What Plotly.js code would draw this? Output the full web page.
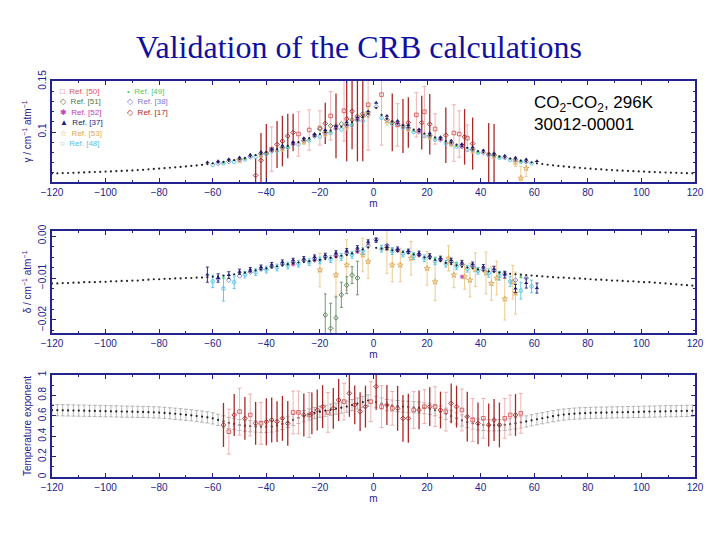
<!DOCTYPE html>
<html>
<head>
<meta charset="utf-8">
<script src="https://cdn.plot.ly/plotly-3.0.1.min.js"></script>
<style>
  html, body { margin: 0; padding: 0; background: #fff; }
  #chart { width: 720px; height: 540px; }
</style>
</head>
<body>
<div id="chart"></div>
<script>
// ---- CRB calculation: m = -120..-2 (P branch) and 1..119 (R branch)
const mCalc = [
    -120, -118, -116, -114, -112, -110, -108, -106, -104, -102,
    -100, -98, -96, -94, -92, -90, -88, -86, -84, -82,
    -80, -78, -76, -74, -72, -70, -68, -66, -64, -62,
    -60, -58, -56, -54, -52, -50, -48, -46, -44, -42,
    -40, -38, -36, -34, -32, -30, -28, -26, -24, -22,
    -20, -18, -16, -14, -12, -10, -8, -6, -4, -2,
    1, 3, 5, 7, 9, 11, 13, 15, 17, 19,
    21, 23, 25, 27, 29, 31, 33, 35, 37, 39,
    41, 43, 45, 47, 49, 51, 53, 55, 57, 59,
    61, 63, 65, 67, 69, 71, 73, 75, 77, 79,
    81, 83, 85, 87, 89, 91, 93, 95, 97, 99,
    101, 103, 105, 107, 109, 111, 113, 115, 117, 119,
];
const calcGamma = [
    .0590, .0591, .0593, .0594, .0596, .0598, .0600, .0602, .0604, .0606,
    .0608, .0610, .0612, .0615, .0617, .0620, .0623, .0626, .0630, .0634,
    .0638, .0642, .0646, .0650, .0654, .0659, .0664, .0669, .0675, .0682,
    .0690, .0697, .0705, .0713, .0721, .0730, .0743, .0757, .0771, .0785,
    .0800, .0815, .0831, .0847, .0863, .0880, .0899, .0919, .0939, .0959,
    .0980, .0998, .1016, .1034, .1052, .1070, .1095, .1120, .1148, .1180,
    .1240, .1170, .1130, .1105, .1085, .1065, .1045, .1025, .1005, .0985,
    .0966, .0947, .0929, .0911, .0893, .0876, .0859, .0843, .0827, .0812,
    .0798, .0784, .0771, .0759, .0747, .0736, .0726, .0716, .0707, .0698,
    .0690, .0683, .0676, .0670, .0664, .0659, .0654, .0649, .0645, .0641,
    .0637, .0633, .0630, .0626, .0623, .0620, .0617, .0615, .0612, .0610,
    .0608, .0605, .0603, .0601, .0599, .0597, .0596, .0594, .0592, .0591,
];
const calcDelta = [
    -.0113, -.0113, -.0112, -.0112, -.0111, -.0111, -.0110, -.0110, -.0110, -.0109,
    -.0109, -.0108, -.0108, -.0107, -.0107, -.0106, -.0106, -.0105, -.0104, -.0103,
    -.0103, -.0102, -.0102, -.0101, -.0101, -.0100, -.0100, -.0099, -.0099, -.0098,
    -.0097, -.0096, -.0094, -.0093, -.0091, -.0089, -.0087, -.0085, -.0082, -.0080,
    -.0077, -.0075, -.0072, -.0070, -.0067, -.0065, -.0063, -.0062, -.0060, -.0058,
    -.0057, -.0055, -.0052, -.0050, -.0047, -.0045, -.0041, -.0037, -.0032, -.0027,
    -.0028, -.0030, -.0032, -.0034, -.0036, -.0038, -.0041, -.0044, -.0047, -.0051,
    -.0054, -.0057, -.0060, -.0064, -.0067, -.0070, -.0073, -.0075, -.0077, -.0080,
    -.0082, -.0084, -.0085, -.0087, -.0088, -.0090, -.0091, -.0092, -.0093, -.0094,
    -.0095, -.0096, -.0097, -.0098, -.0099, -.0099, -.0100, -.0101, -.0101, -.0102,
    -.0103, -.0104, -.0104, -.0105, -.0106, -.0106, -.0107, -.0108, -.0108, -.0109,
    -.0110, -.0110, -.0111, -.0112, -.0113, -.0114, -.0115, -.0116, -.0117, -.0118,
];
const calcN = [
    .655, .655, .654, .653, .652, .651, .650, .649, .648, .647,
    .645, .644, .643, .642, .641, .640, .639, .638, .636, .634,
    .632, .628, .624, .620, .615, .610, .605, .598, .592, .585,
    .575, .560, .545, .530, .520, .510, .503, .498, .495, .492,
    .492, .495, .505, .520, .540, .560, .580, .597, .613, .627,
    .640, .650, .660, .670, .680, .690, .705, .720, .735, .750,
    .735, .720, .705, .700, .695, .690, .687, .684, .680, .675,
    .668, .655, .640, .620, .598, .575, .555, .538, .525, .515,
    .510, .507, .507, .508, .512, .518, .526, .535, .545, .556,
    .566, .576, .586, .596, .605, .612, .617, .621, .624, .626,
    .628, .630, .631, .632, .633, .634, .635, .636, .637, .638,
    .640, .641, .642, .643, .644, .645, .646, .647, .648, .649,
];
const calcNErr = 0.055;

// ---- Measurements (Refs.)
const m37 = [-62, -58, -54, -50, -46, -42, -38, -34, -30, -26, -22, -18, -14, -10, -6, -2,
    1, 5, 9, 13, 17, 21, 25, 29, 33, 37, 41, 45, 49, 53, 57, 61];
const gamma37 = [.0700, .0712, .0730, .0748, .0775, .0803, .0833, .0866, .0900, .0940, .0980, .1020, .1058, .1095, .1145, .1205,
    .1290, .1160, .1110, .1068, .1027, .0988, .0950, .0915, .0880, .0848, .0818, .0790, .0765, .0745, .0728, .0712];
const delta37 = [-.0092, -.0100, -.0093, -.0085, -.0080, -.0074, -.0068, -.0062, -.0058, -.0054, -.0050, -.0046, -.0040, -.0035, -.0028, -.0014,
    -.0010, -.0026, -.0031, -.0036, -.0041, -.0047, -.0053, -.0058, -.0063, -.0067, -.0073, -.0078, -.0092, -.0125, -.0112, -.0124];
const delta37Err = [.0018, .0010, .0008, .0006, .0005, .0005, .0005, .0005, .0005, .0005, .0005, .0005, .0005, .0005, .0005, .0005,
    .0005, .0005, .0005, .0005, .0005, .0005, .0005, .0005, .0005, .0005, .0005, .0006, .0008, .0010, .0012, .0012];

const m48 = [-60, -56, -52, -48, -44, -40, -36, -32, -28, -24, -20, -16, -12, -8, -4,
    3, 7, 11, 15, 19, 23, 27, 31, 35, 39, 43, 47, 51, 55, 59];
const gamma48 = [.0675, .0690, .0705, .0728, .0755, .0782, .0812, .0845, .0878, .0915, .0955, .0990, .1025, .1065, .1110,
    .1140, .1080, .1040, .1000, .0960, .0925, .0890, .0855, .0825, .0795, .0768, .0745, .0725, .0705, .0690];
const delta48 = [-.0108, -.0125, -.0110, -.0092, -.0086, -.0080, -.0075, -.0070, -.0066, -.0062, -.0058, -.0055, -.0050, -.0045, -.0036,
    -.0030, -.0036, -.0042, -.0048, -.0053, -.0060, -.0066, -.0072, -.0078, -.0083, -.0088, -.0095, -.0108, -.0130, -.0120];
const delta48Err = [.0015, .0030, .0015, .0008, .0008, .0008, .0008, .0008, .0008, .0008, .0008, .0008, .0008, .0008, .0008,
    .0008, .0008, .0008, .0008, .0008, .0008, .0008, .0008, .0008, .0008, .0010, .0010, .0012, .0020, .0015];

const m38 = [-58, -54, -50, -46, -42, -38, -34, -30, -26, -22, -18, -14, -10, -6, -2,
    1, 5, 9, 13, 17, 21, 25, 29, 33, 37, 41, 45, 49, 53, 57];
const gamma38 = [.0690, .0708, .0728, .0755, .0785, .0812, .0845, .0878, .0918, .0958, .0995, .1032, .1068, .1115, .1170,
    .1250, .1125, .1080, .1040, .1000, .0962, .0925, .0890, .0856, .0825, .0796, .0770, .0746, .0725, .0706];
const delta38 = [-.0102, -.0105, -.0095, -.0086, -.0079, -.0073, -.0067, -.0062, -.0058, -.0054, -.0050, -.0046, -.0041, -.0035, -.0024,
    -.0008, -.0022, -.0033, -.0038, -.0044, -.0050, -.0055, -.0061, -.0068, -.0072, -.0080, -.0083, -.0090, -.0105, -.0100];

const m49 = [-56, -48, -40, -32, -24, -16, -8, 7, 15, 23, 31, 39, 47, 55];
const gamma49 = [.0695, .0732, .0790, .0850, .0925, .1000, .1080, .1095, .1010, .0935, .0862, .0800, .0750, .0708];
const delta49 = [-.0100, -.0088, -.0078, -.0068, -.0060, -.0052, -.0042, -.0030, -.0042, -.0052, -.0064, -.0076, -.0086, -.0098];

const m53g = [-50, -42, -34, -26, -18, -10, -2, 5, 13, 21, 29, 37, 45, 53, 55, 57];
const gamma53 = [.0720, .0775, .0838, .0905, .0985, .1060, .1190, .1110, .1035, .0958, .0885, .0820, .0765, .0700, .0543, .0640];
const gamma53Err = [.002, .002, .003, .003, .003, .004, .005, .004, .003, .003, .003, .003, .003, .004, .012, .008];
const m53d = [-20, -14, -10, -4, -2, 5, 7, 10, 14, 20, 23, 28, 30, 34, 36, 38, 42, 44, 46, 49, 52, 53];
const delta53 = [-.0081, -.0093, -.0069, -.0045, -.0061, -.0029, -.0069, -.0069, -.0053, -.0077, -.0109,
    -.0053, -.0093, -.0097, -.0105, -.0080, -.0088, -.0113, -.0100, -.0150, -.0110, -.0136];
const delta53Err = [.004, .005, .006, .004, .004, .006, .004, .004, .004, .004, .0045,
    .003, .003, .003, .004, .004, .005, .004, .004, .005, .004, .005];

const m50g = [-38, -28, -24, -20, -16, -11, -2, 3, 9, 16, 19, 23, 30, 32, 35];
const gamma50 = [.083, .098, .102, .104, .116, .121, .127, .137, .107, .117, .120, .103, .099, .098, .094];
const gamma50Err = [.022, .022, .020, .017, .024, .030, .045, .050, .021, .022, .025, .015, .028, .023, .013];
const m50n = [-54, -50, -46, -42, -30, -28, -24, -17, -11, -1, 3, 7, 15, 19, 23, 27, 33, 37, 41, 49, 51, 55];
const n50 = [.444, .641, .608, .526, .633, .633, .608, .633, .739, .739, .690, .673, .657, .690, .690, .641, .657, .559, .575, .575, .608, .624];
const n50Err = [.220, .230, .205, .205, .210, .210, .220, .195, .180, .195, .205, .165, .180, .165, .195, .190, .205, .210, .195, .195, .195, .195];

const m17g = [-44, -42, -40, -36, -34, -32, -30, -18, -14, -10, -8, -6, -4, 7, 11, 13, 18, 21, 27, 34, 37, 43, 45];
const gamma17 = [.057, .072, .079, .0877, .091, .096, .0995, .1085, .106, .113, .1205, .1155, .1155,
    .1095, .106, .1093, .1093, .1077, .0968, .0952, .0885, .078, .077];
const gamma17Err = [.017, .027, .029, .0233, .025, .022, .0185, .0205, .032, .042, .0375, .0445, .0445,
    .0285, .0267, .025, .0267, .030, .0275, .0275, .0258, .031, .031];
const m17n = [-56, -52, -48, -44, -40, -38, -36, -34, -32, -26, -23, -21, -19, -15, -13, -9, -7, -5, -3, 1,
    5, 9, 11, 13, 17, 21, 25, 29, 31, 35, 39, 43, 45, 47, 53];
const n17 = [.510, .608, .575, .526, .542, .559, .542, .575, .526, .608, .624, .657, .690, .673, .755, .820, .706, .641, .690, .886,
    .706, .673, .575, .575, .657, .690, .657, .722, .690, .592, .526, .510, .559, .510, .608];
const n17Err = [.215, .205, .210, .210, .230, .220, .200, .220, .220, .210, .205, .200, .210, .200, .205, .230, .190, .190, .205, .230,
    .195, .220, .230, .240, .190, .190, .180, .195, .205, .245, .205, .210, .205, .220, .205];

const m51g = [-20, -16, -12, -8, -4];
const gamma51 = [.103, .106, .108, .112, .118];
const m51d = [-18, -16, -14, -12, -10, -8, -6];
const delta51 = [-.0188, -.0220, -.0195, -.0140, -.0117, -.0093, -.0100];
const delta51Err = [.005, .006, .005, .003, .002, .002, .004];

const m52 = [-30, -22, -14, -6, 9, 17, 25, 33];
const gamma52 = [.089, .097, .104, .113, .109, .101, .093, .086];
const delta52 = [-.0068, -.0058, -.0049, -.0038, -.0035, -.0046, -.0057, -.0097];

// ---- Styles
const NAVY = '#23238f';
const FONT = 'Liberation Sans, Arial, Helvetica, sans-serif';

function openMarker(symbol, size, color) {
    return { symbol: symbol, size: size, color: color, line: { width: 0.9, color: color } };
}

const STYLE = {
    calc: { marker: { symbol: 'circle', size: 2.2, color: '#222' }, bar: '#8a8a8a', thick: 0.6, cap: 2 },
    r37: { marker: { symbol: 'triangle-up', size: 3.8, color: '#1c1c6e' }, bar: '#1c1c6e', thick: 0.9, cap: 1.5 },
    r48: { marker: openMarker('circle-open', 3.6, '#4fc3e8'), bar: '#4fc3e8', thick: 0.9, cap: 1.5 },
    r38: { marker: openMarker('diamond-open', 3.6, '#7b7bd6'), bar: '#7b7bd6', thick: 0.9, cap: 1.5 },
    r49: { marker: { symbol: 'circle', size: 2.6, color: '#5cc85c' }, bar: '#5cc85c', thick: 0.9, cap: 1.5 },
    r53: { marker: openMarker('star-open', 4.2, '#e0a850'), bar: '#e6bd78', thick: 0.8, cap: 1.5 },
    r50: { marker: openMarker('square-open', 3.6, '#d85858'), bar: '#eca0a0', thick: 0.8, cap: 2 },
    r17: { marker: openMarker('diamond-open', 3.6, '#a82828'), bar: '#a82828', thick: 1.3, cap: 0 },
    r51: { marker: openMarker('diamond-open', 3.6, '#4a7a4a'), bar: '#6a8a6a', thick: 0.9, cap: 1.5 },
    r52: { marker: openMarker('asterisk-open', 3.6, '#c040c0'), bar: '#c040c0', thick: 0.9, cap: 1.5 },
};

function pts(x, y, panel, style, err) {
    const trace = {
        x: x,
        y: y,
        xaxis: 'x' + (panel > 1 ? panel : ''),
        yaxis: 'y' + (panel > 1 ? panel : ''),
        type: 'scatter',
        mode: 'markers',
        marker: style.marker,
        hoverinfo: 'x+y',
    };
    if (err !== undefined) {
        trace.error_y = Array.isArray(err)
            ? { type: 'data', array: err, color: style.bar, thickness: style.thick, width: style.cap }
            : { type: 'constant', value: err, color: style.bar, thickness: style.thick, width: style.cap };
    }
    return trace;
}

const traces = [
    // gamma panel
    pts(m17g, gamma17, 1, STYLE.r17, gamma17Err),
    pts(m50g, gamma50, 1, STYLE.r50, gamma50Err),
    pts(m53g, gamma53, 1, STYLE.r53, gamma53Err),
    pts(m49, gamma49, 1, STYLE.r49),
    pts(m48, gamma48, 1, STYLE.r48),
    pts(m38, gamma38, 1, STYLE.r38),
    pts(m51g, gamma51, 1, STYLE.r51),
    pts(m52, gamma52, 1, STYLE.r52),
    pts(mCalc, calcGamma, 1, STYLE.calc),
    pts(m37, gamma37, 1, STYLE.r37),
    // delta panel
    pts(m53d, delta53, 2, STYLE.r53, delta53Err),
    pts(m51d, delta51, 2, STYLE.r51, delta51Err),
    pts(m49, delta49, 2, STYLE.r49),
    pts(m48, delta48, 2, STYLE.r48, delta48Err),
    pts(m38, delta38, 2, STYLE.r38),
    pts(m52, delta52, 2, STYLE.r52),
    pts(mCalc, calcDelta, 2, STYLE.calc),
    pts(m37, delta37, 2, STYLE.r37, delta37Err),
    // temperature exponent panel
    pts(mCalc, calcN, 3, STYLE.calc, calcNErr),
    pts(m50n, n50, 3, STYLE.r50, n50Err),
    pts(m17n, n17, 3, STYLE.r17, n17Err),
];

// ---- Axes
const AXIS = {
    showline: true, linecolor: NAVY, linewidth: 1.5, mirror: 'ticks',
    ticks: 'inside', ticklen: 4, tickcolor: NAVY, tickwidth: 1,
    showgrid: false, zeroline: false, automargin: false,
    tickfont: { family: FONT, size: 10, color: NAVY },
};
const MINOR = { ticks: 'inside', ticklen: 2.5, tickcolor: NAVY, tickwidth: 1, showgrid: false };
const X_DOMAIN = [52 / 720, 695 / 720];

function xAxis(anchor) {
    return {
        ...AXIS, anchor: anchor, domain: X_DOMAIN,
        range: [-120, 120], tick0: 0, dtick: 20,
        minor: { ...MINOR, dtick: 10 },
        title: { text: 'm', font: { family: FONT, size: 10, color: NAVY }, standoff: 3 },
    };
}

function yAxis(anchor, top, bottom, extra) {
    return {
        ...AXIS, anchor: anchor, domain: [1 - bottom / 540, 1 - top / 540],
        tickangle: -90,
        ...extra,
    };
}

const yTitleFont = { family: FONT, size: 10, color: NAVY };

// legend, drawn as text lines in the top panel
function legendLine(sym, name, color) {
    return `<span style="color:${color}">${sym}  ${name}</span>`;
}
const legendCol1 = [
    legendLine('□', 'Ref. [50]', '#d85858'),
    legendLine('◇', 'Ref. [51]', '#4a7a4a'),
    legendLine('✱', 'Ref. [52]', '#c040c0'),
    legendLine('▲', 'Ref. [37]', '#1c1c6e'),
    legendLine('☆', 'Ref. [53]', '#e0a850'),
    legendLine('○', 'Ref. [48]', '#4fc3e8'),
];
const legendCol2 = [
    legendLine('•', 'Ref. [49]', '#5cc85c'),
    legendLine('◇', 'Ref. [38]', '#7b7bd6'),
    legendLine('◇', 'Ref. [17]', '#a82828'),
];
const legendFont = { family: 'Liberation Sans, DejaVu Sans, sans-serif', size: 8 };

const layout = {
    width: 720,
    height: 540,
    paper_bgcolor: '#ffffff',
    plot_bgcolor: '#ffffff',
    margin: { l: 0, r: 0, t: 0, b: 0 },
    showlegend: false,
    title: {
        text: 'Validation of the CRB calculations',
        font: { family: 'Liberation Serif, Times New Roman, serif', size: 32, color: '#1010a0' },
        x: 359 / 720, xanchor: 'center', xref: 'container',
        y: 1 - 47 / 540, yanchor: 'middle', yref: 'container',
    },
    xaxis: xAxis('y'),
    xaxis2: xAxis('y2'),
    xaxis3: xAxis('y3'),
    yaxis: yAxis('x', 81, 182, {
        range: [0.0505, 0.1505], tick0: 0.1, dtick: 0.05,
        minor: { ...MINOR, dtick: 0.01 },
        title: { text: 'γ / cm<sup>−1</sup> atm<sup>−1</sup>', font: yTitleFont, standoff: 4 },
    }),
    yaxis2: yAxis('x2', 231, 333, {
        range: [-0.0231, 0.0012], tick0: 0, dtick: 0.01, tickformat: '.2f',
        minor: { ...MINOR, dtick: 0.0025 },
        title: { text: 'δ / cm<sup>−1</sup> atm<sup>−1</sup>', font: yTitleFont, standoff: 4 },
    }),
    yaxis3: yAxis('x3', 375, 477, {
        range: [0, 1], tick0: 0, dtick: 0.2,
        minor: { ...MINOR, dtick: 0.1 },
        title: { text: 'Temperature exponent', font: yTitleFont, standoff: 4 },
    }),
    annotations: [
        {
            text: legendCol1.join('<br>'), font: legendFont, align: 'left', showarrow: false,
            xref: 'paper', yref: 'paper', x: 58 / 720, y: 1 - 85 / 540, xanchor: 'left', yanchor: 'top',
        },
        {
            text: legendCol2.join('<br>'), font: legendFont, align: 'left', showarrow: false,
            xref: 'paper', yref: 'paper', x: 125 / 720, y: 1 - 85 / 540, xanchor: 'left', yanchor: 'top',
        },
        {
            text: 'CO<sub>2</sub>-CO<sub>2</sub>, 296K<br>30012-00001',
            font: { family: FONT, size: 17, color: '#000' }, align: 'left', showarrow: false,
            xref: 'paper', yref: 'paper', x: 532 / 720, y: 1 - 113 / 540, xanchor: 'left', yanchor: 'middle',
        },
    ],
};

Plotly.newPlot('chart', traces, layout, { displayModeBar: false, responsive: false });
</script>
</body>
</html>
